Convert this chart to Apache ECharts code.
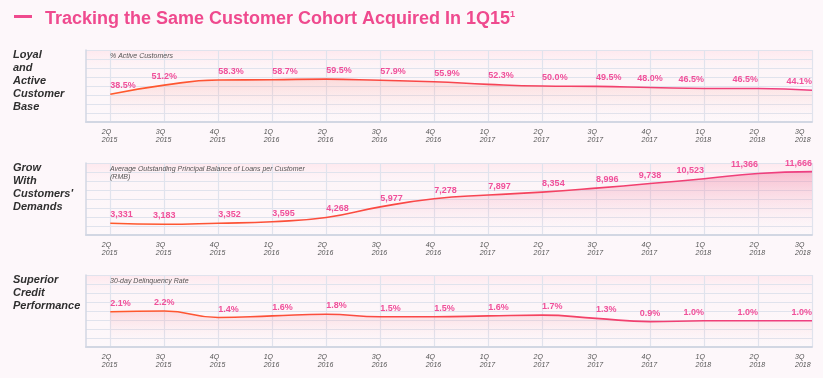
<!DOCTYPE html>
<html><head><meta charset="utf-8">
<script src="https://cdn.jsdelivr.net/npm/echarts@6/dist/echarts.min.js"></script>
<style>html,body{margin:0;padding:0;background:#fdf7fa}#c{width:823px;height:378px}</style>
</head><body><div id="c"></div>
<script>
// ---- data ----
const categories = ['2Q 2015','3Q 2015','4Q 2015','1Q 2016','2Q 2016','3Q 2016','4Q 2016','1Q 2017','2Q 2017','3Q 2017','4Q 2017','1Q 2018','2Q 2018','3Q 2018'];
const activeCustomers = [38.5, 51.2, 58.3, 58.7, 59.5, 57.9, 55.9, 52.3, 50.0, 49.5, 48.0, 46.5, 46.5, 44.1];
const avgBalance = [3331, 3183, 3352, 3595, 4268, 5977, 7278, 7897, 8354, 8996, 9738, 10523, 11366, 11666];
const delinquency = [2.1, 2.2, 1.4, 1.6, 1.8, 1.5, 1.5, 1.6, 1.7, 1.3, 0.9, 1.0, 1.0, 1.0];
const panelTitles = ['Loyal\nand\nActive\nCustomer\nBase', 'Grow\nWith\nCustomers\'\nDemands', 'Superior\nCredit\nPerformance'];
const captions = ['% Active Customers', 'Average Outstanding Principal Balance of Loans per Customer\n(RMB)', '30-day Delinquency Rate'];
const titleText = 'Tracking the Same Customer Cohort Acquired In 1Q15';
const titleSup = '1';

// ---- layout / style ----
const FONT = '"Liberation Sans", Arial, Helvetica, sans-serif';
const PINK = '#ef4a8e';
const LABEL_PINK = '#f0509a';
const tops = [50, 163, 275];
const H = 72;
const idx = categories.map((_, i) => i);
const yRanges = [
  {min: 0, max: 100, interval: 12.5},
  {min: 1450, max: 13050, interval: 1450},
  {min: -2.2, max: 6.6, interval: 1.1}
];
const formatters = [
  v => v.toFixed(1) + '%',
  v => v.toLocaleString('en-US'),
  v => v.toFixed(1) + '%'
];
const areaTop = ['rgba(248,140,130,0.36)', 'rgba(240,105,145,0.55)', 'rgba(248,125,140,0.32)'];
const areaMid = ['rgba(250,175,170,0.12)', 'rgba(245,150,175,0.18)', 'rgba(250,170,180,0.1)'];
const seriesValues = [activeCustomers, avgBalance, delinquency];

function alignFor(i) {
  if (i === 1 || i === 10) return 'center';
  if (i >= 11) return 'right';
  return 'left';
}

const chart = echarts.init(document.getElementById('c'), null, {renderer: 'canvas'});

const grids = [], xAxes = [], yAxes = [], series = [];
for (let k = 0; k < 3; k++) {
  grids.push({
    left: 86, right: 11, top: tops[k], height: H, show: true, borderWidth: 0,
    backgroundColor: {type: 'linear', x: 0, y: 0, x2: 0, y2: 1, colorStops: [
      {offset: 0, color: 'rgba(255,218,226,0.5)'},
      {offset: 0.25, color: 'rgba(255,236,240,0.2)'},
      {offset: 1, color: 'rgba(255,255,255,0.1)'}]}
  });
  xAxes.push({
    type: 'value', gridIndex: k, min: -0.45, max: 13,
    axisLine: {show: true, onZero: false, lineStyle: {color: '#d2d7e3', width: 2}},
    axisTick: {show: false, customValues: idx},
    splitLine: {show: true, lineStyle: {color: '#e0e3ed', width: 1.2}},
    axisLabel: {
      customValues: idx, margin: 6, alignMaxLabel: 'right',
      formatter: v => { const p = categories[Math.round(v)].split(' '); return '{a|' + p[0] + '}\n{a|' + p[1] + '}'; },
      rich: {a: {fontSize: 7, fontStyle: 'italic', color: '#555', fontFamily: FONT, width: 17, align: 'left', lineHeight: 8}}
    }
  });
  yAxes.push(Object.assign({
    type: 'value', gridIndex: k,
    axisLabel: {show: false}, axisTick: {show: false},
    axisLine: {show: true, onZero: false, lineStyle: {color: '#d2d7e3', width: 1.5}},
    splitLine: {show: true, lineStyle: {color: '#e0e3ed', width: 1.2}}
  }, yRanges[k]));
  const vals = seriesValues[k];
  const fmt = formatters[k];
  series.push({
    type: 'line', xAxisIndex: k, yAxisIndex: k, smooth: 0.5, showSymbol: true, symbol: 'circle', symbolSize: 0.01,
    itemStyle: {color: 'rgba(0,0,0,0)'},
    data: idx.map(i => ({value: [i, vals[i]], label: {align: alignFor(i)}})),
    lineStyle: {width: 1.6, color: {type: 'linear', x: 0, y: 0, x2: 1, y2: 0, colorStops: [
      {offset: 0, color: '#ff5a2b'}, {offset: 0.4, color: '#fa4943'}, {offset: 0.7, color: '#f2406c'}, {offset: 1, color: '#ee3f82'}]}},
    areaStyle: {origin: 'start', color: {type: 'linear', x: 0, y: 0, x2: 0, y2: 1, colorStops: [
      {offset: 0, color: areaTop[k]},
      {offset: 0.6, color: areaMid[k]},
      {offset: 1, color: 'rgba(253,220,230,0)'}]}},
    label: {show: true, position: 'top', distance: 4, color: LABEL_PINK, fontSize: 9, fontWeight: 'bold', fontFamily: FONT,
      formatter: p => fmt(p.value[1])},
    labelLayout: {hideOverlap: false},
    silent: true, animation: false
  });
}

const graphics = [
  {type: 'rect', left: 14, top: 15, shape: {width: 18, height: 3}, style: {fill: PINK}}
];
for (let k = 0; k < 3; k++) {
  graphics.push({type: 'text', left: 13, top: tops[k] - 2,
    style: {text: panelTitles[k], font: 'italic bold 11px ' + FONT, fill: '#2f2f2f', lineHeight: 13}});
  graphics.push({type: 'text', left: 110, top: tops[k] + 2, z: 10,
    style: {text: captions[k], font: 'italic 7px ' + FONT, fill: '#555', lineHeight: 8}});
}

chart.setOption({
  backgroundColor: '#fdf7fa',
  animation: false,
  title: {
    text: '{t|' + titleText + '}{s|' + titleSup + '}', left: 40, top: 5,
    textStyle: {rich: {
      t: {fontSize: 18, fontWeight: 'bold', color: PINK, fontFamily: FONT},
      s: {fontSize: 9, fontWeight: 'bold', color: PINK, fontFamily: FONT, verticalAlign: 'top'}
    }}
  },
  grid: grids, xAxis: xAxes, yAxis: yAxes, series: series, graphic: graphics
});
</script></body></html>
